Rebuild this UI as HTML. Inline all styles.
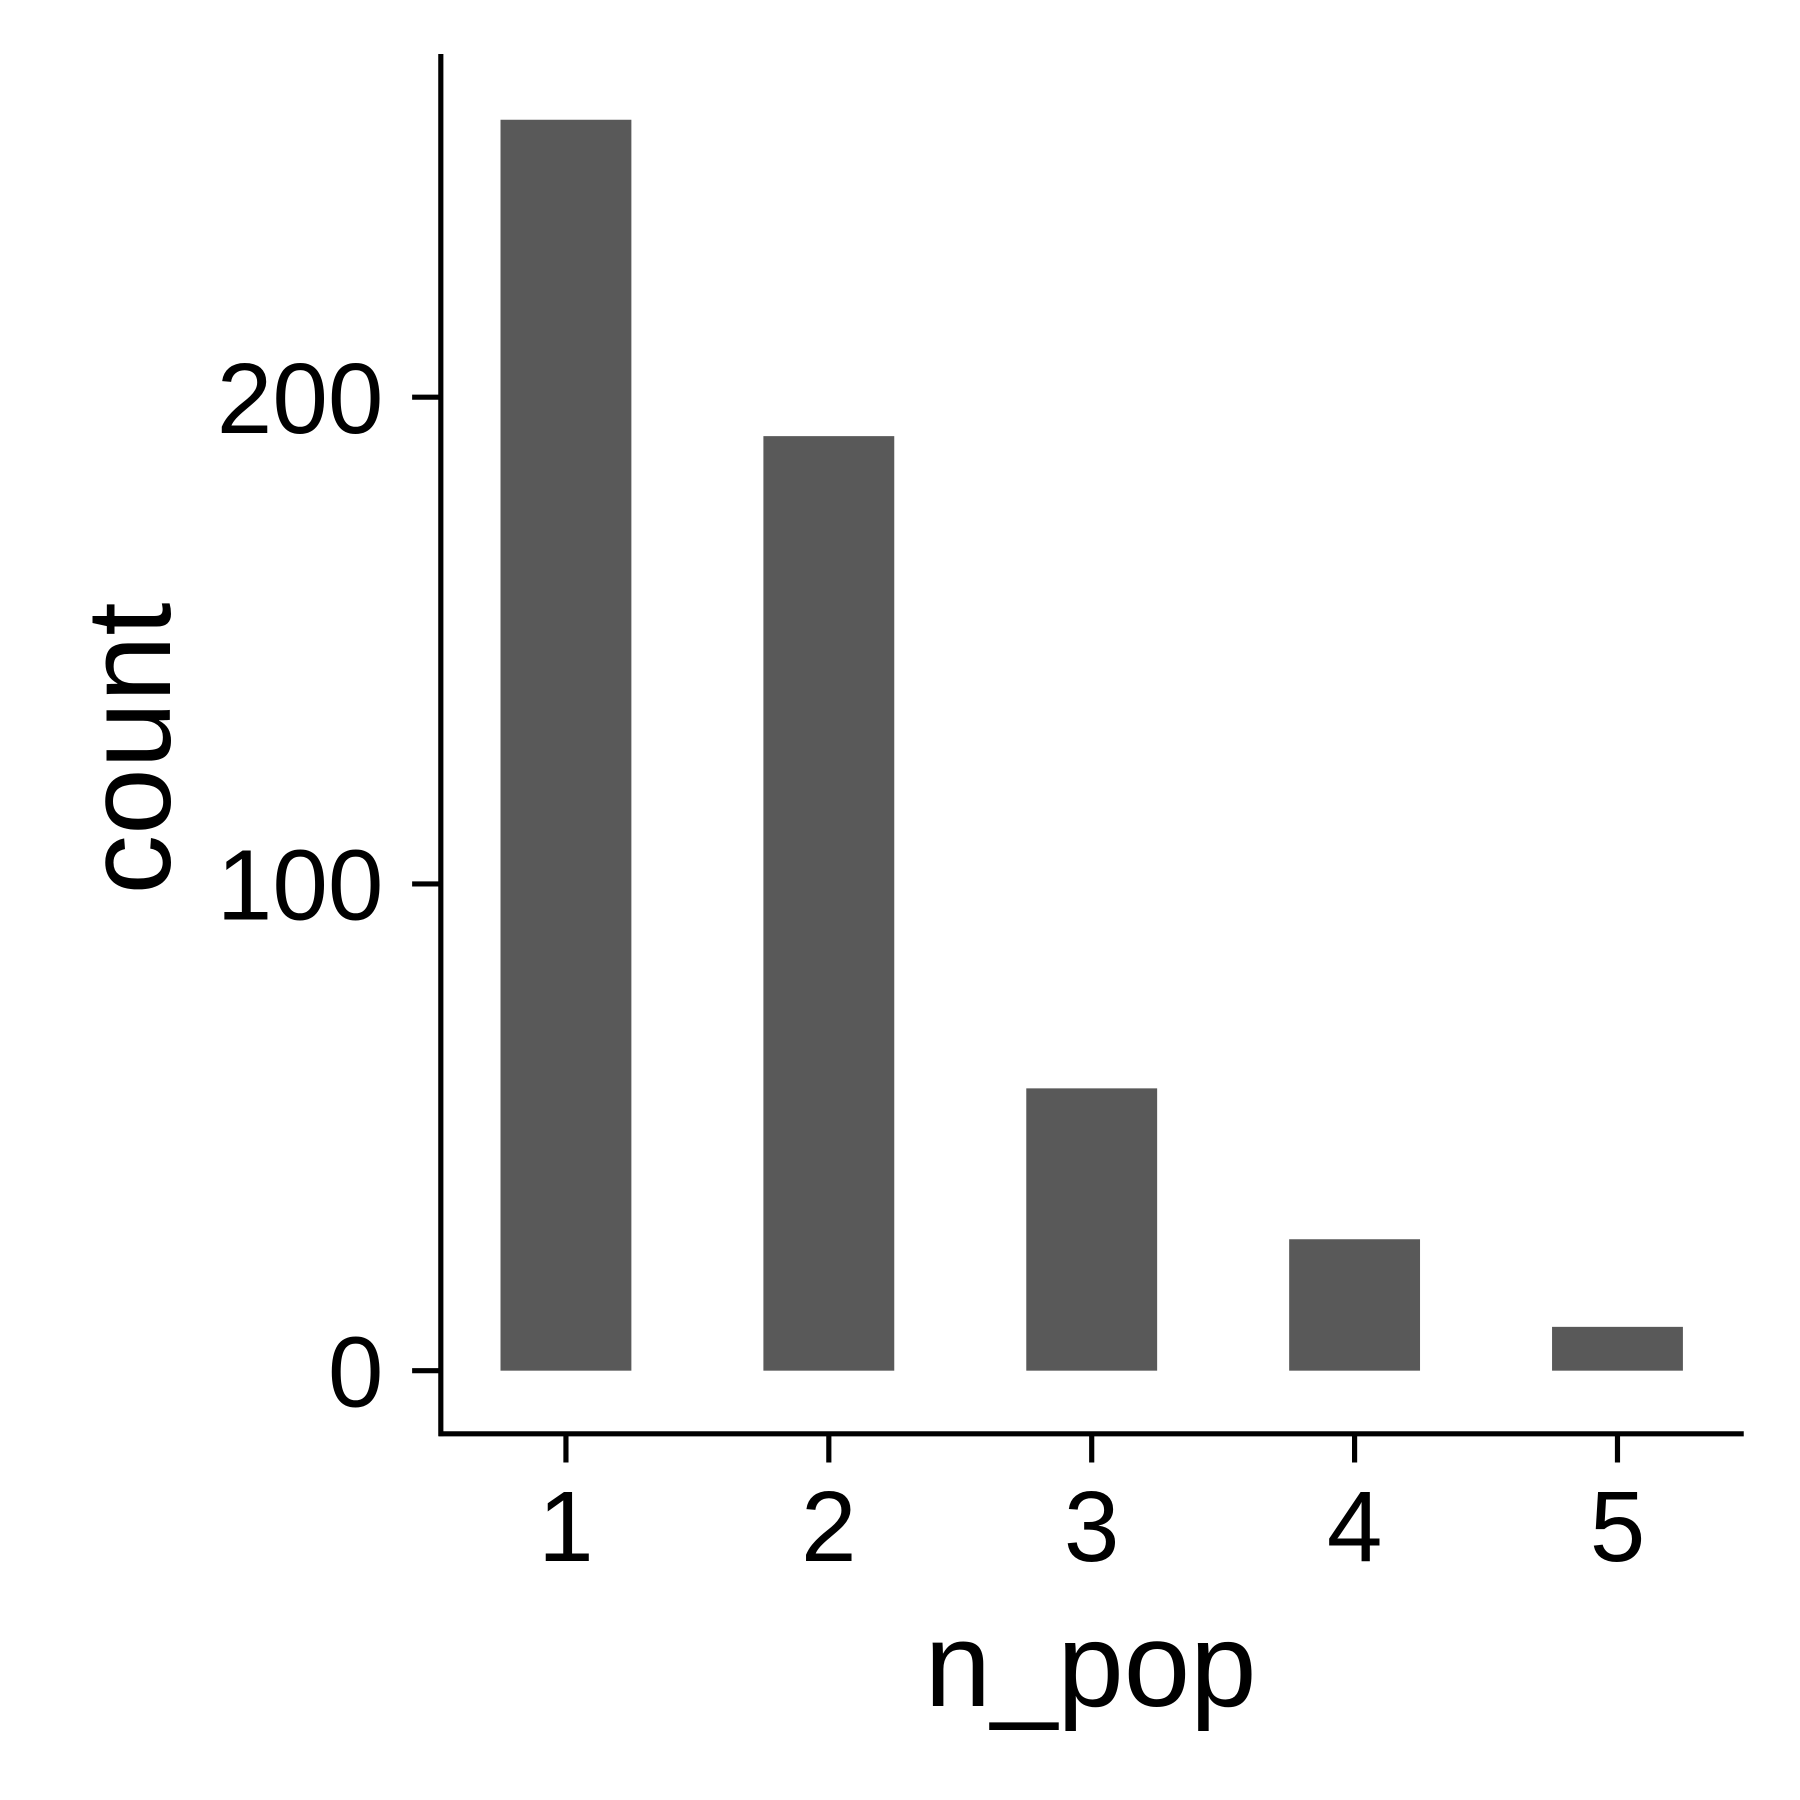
<!DOCTYPE html>
<html><head><meta charset="utf-8"><style>html,body{margin:0;padding:0;background:#fff}svg{display:block}</style></head>
<body>
<svg id="chart" width="1800" height="1800" viewBox="0 0 1568 1568" xmlns="http://www.w3.org/2000/svg" font-family="Liberation Sans, Arial, sans-serif">
<g id="bars"></g>
<g id="axes"></g>
</svg>
<script>
const categories = ["1","2","3","4","5"];
const counts = [257, 192, 58, 27, 9];
const yTicks = [0, 100, 200];
const NS = "http://www.w3.org/2000/svg";
const x0 = 493, xStep = 229, barW = 114;
function xPos(i){ return x0 + i*xStep; }
function yPos(v){ return 1194 - v*4.24; }
function mk(tag, attrs, parent){ const e=document.createElementNS(NS,tag); for(const k in attrs) e.setAttribute(k,attrs[k]); parent.appendChild(e); return e; }
const bars=document.getElementById('bars'), axes=document.getElementById('axes');
counts.forEach((v,i)=>{
  const r=mk('rect',{x:xPos(i)-barW/2,y:yPos(v),width:barW,height:yPos(0)-yPos(v),fill:'#595959'},bars);
  
  
});
const ya=mk('line',{x1:384,y1:47,x2:384,y2:1251,stroke:'#000','stroke-width':4.5},axes);


const xa=mk('line',{x1:382,y1:1249,x2:1519,y2:1249,stroke:'#000','stroke-width':4.5},axes);


yTicks.forEach(t=>{
  const y=yPos(t);
  const l=mk('line',{x1:359,y1:y,x2:384,y2:y,stroke:'#000','stroke-width':4.5},axes);
  
  
  const tx=mk('text',{x:334,y:y+31,'text-anchor':'end','font-size':87,fill:'#000'},axes);
  tx.textContent=t;
  
  
});
categories.forEach((c,i)=>{
  const x=xPos(i);
  const l=mk('line',{x1:x,y1:1249,x2:x,y2:1274,stroke:'#000','stroke-width':4.5},axes);
  
  
  const tx=mk('text',{x:x,y:1360,'text-anchor':'middle','font-size':87,fill:'#000'},axes);
  tx.textContent=c;
  
  
});
const xt=mk('text',{x:950,y:1486,'text-anchor':'middle','font-size':104,fill:'#000'},axes);
xt.textContent='n_pop';


const yt=mk('text',{x:0,y:0,'text-anchor':'middle','font-size':104,fill:'#000',transform:'translate(148,652) rotate(-90)'},axes);
yt.textContent='count';


</script>
</body></html>
